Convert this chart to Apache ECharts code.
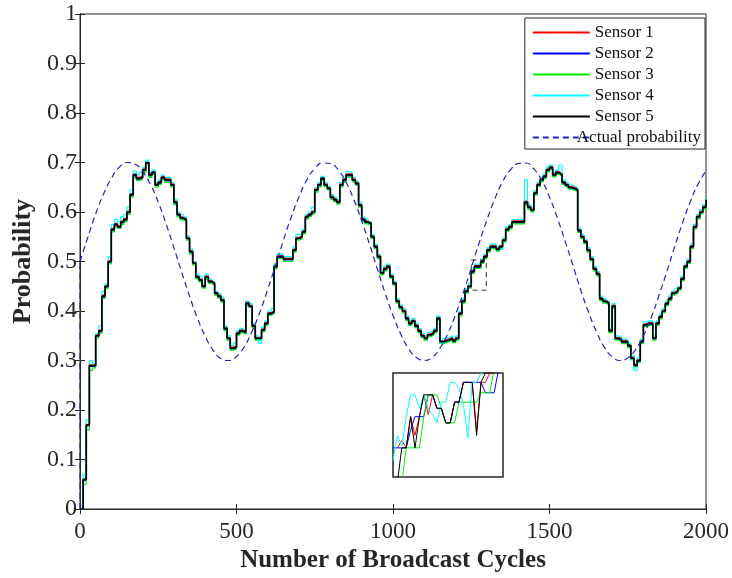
<!DOCTYPE html>
<html>
<head>
<meta charset="utf-8">
<script src="https://cdn.jsdelivr.net/npm/echarts@6/dist/echarts.min.js"></script>
<style>
  html, body { margin: 0; padding: 0; background: #fff; }
  #chart { width: 732px; height: 578px; }
</style>
</head>
<body>
<div id="chart"></div>
<script>
var chart = echarts.init(document.getElementById('chart'));

var serif = "'Liberation Serif', 'Times New Roman', serif";
var axisColor = '#262626';

// broadcast cycles sampled every 10
var cycles = [0,10,20,30,40,50,60,70,80,90,
  100,110,120,130,140,150,160,170,180,190,
  200,210,220,230,240,250,260,270,280,290,
  300,310,320,330,340,350,360,370,380,390,
  400,410,420,430,440,450,460,470,480,490,
  500,510,520,530,540,550,560,570,580,590,
  600,610,620,630,640,650,660,670,680,690,
  700,710,720,730,740,750,760,770,780,790,
  800,810,820,830,840,850,860,870,880,890,
  900,910,920,930,940,950,960,970,980,990,
  1000,1010,1020,1030,1040,1050,1060,1070,1080,1090,
  1100,1110,1120,1130,1140,1150,1160,1170,1180,1190,
  1200,1210,1220,1230,1240,1250,1260,1270,1280,1290,
  1300,1310,1320,1330,1340,1350,1360,1370,1380,1390,
  1400,1410,1420,1430,1440,1450,1460,1470,1480,1490,
  1500,1510,1520,1530,1540,1550,1560,1570,1580,1590,
  1600,1610,1620,1630,1640,1650,1660,1670,1680,1690,
  1700,1710,1720,1730,1740,1750,1760,1770,1780,1790,
  1800,1810,1820,1830,1840,1850,1860,1870,1880,1890,
  1900,1910,1920,1930,1940,1950,1960,1970,1980,1990,2000];

var sensor1 = [0.00,0.06,0.17,0.29,0.29,0.352,0.362,0.432,0.452,0.502,
  0.567,0.577,0.572,0.582,0.587,0.602,0.637,0.677,0.67,0.672,
  0.687,0.70,0.677,0.682,0.657,0.662,0.672,0.667,0.667,0.657,
  0.622,0.597,0.59,0.587,0.549,0.522,0.499,0.471,0.465,0.452,
  0.471,0.462,0.458,0.438,0.432,0.424,0.367,0.347,0.327,0.329,
  0.357,0.362,0.359,0.418,0.412,0.372,0.347,0.347,0.364,0.377,
  0.397,0.40,0.492,0.512,0.512,0.507,0.507,0.507,0.525,0.549,
  0.552,0.562,0.592,0.597,0.602,0.647,0.657,0.67,0.657,0.65,
  0.632,0.627,0.622,0.657,0.667,0.677,0.677,0.667,0.66,0.616,
  0.587,0.582,0.579,0.552,0.532,0.512,0.479,0.487,0.492,0.472,
  0.458,0.422,0.41,0.402,0.387,0.377,0.382,0.372,0.362,0.352,
  0.347,0.354,0.357,0.362,0.387,0.34,0.342,0.344,0.347,0.342,
  0.347,0.397,0.422,0.442,0.452,0.482,0.492,0.492,0.502,0.512,
  0.525,0.532,0.532,0.527,0.532,0.545,0.567,0.572,0.582,0.582,
  0.582,0.582,0.622,0.612,0.606,0.64,0.657,0.667,0.674,0.687,
  0.692,0.677,0.682,0.678,0.662,0.657,0.652,0.65,0.647,0.565,
  0.552,0.542,0.525,0.507,0.487,0.477,0.427,0.422,0.418,0.362,
  0.412,0.347,0.345,0.34,0.34,0.332,0.307,0.292,0.302,0.34,
  0.374,0.377,0.377,0.347,0.377,0.39,0.402,0.417,0.427,0.438,
  0.442,0.448,0.467,0.492,0.502,0.532,0.572,0.592,0.602,0.612,0.627];

var sensor2 = [0.00,0.058,0.168,0.288,0.288,0.348,0.358,0.428,0.448,0.498,
  0.563,0.573,0.568,0.578,0.583,0.598,0.633,0.673,0.666,0.668,
  0.683,0.698,0.673,0.678,0.653,0.658,0.668,0.663,0.663,0.653,
  0.618,0.593,0.586,0.583,0.545,0.518,0.495,0.467,0.461,0.448,
  0.467,0.458,0.454,0.434,0.428,0.42,0.363,0.343,0.323,0.325,
  0.353,0.358,0.355,0.414,0.408,0.368,0.343,0.343,0.36,0.373,
  0.393,0.396,0.488,0.508,0.508,0.503,0.503,0.503,0.521,0.545,
  0.548,0.558,0.588,0.593,0.598,0.643,0.653,0.666,0.653,0.646,
  0.628,0.623,0.618,0.653,0.663,0.673,0.673,0.663,0.656,0.612,
  0.583,0.578,0.575,0.548,0.528,0.508,0.475,0.483,0.488,0.468,
  0.454,0.418,0.406,0.398,0.383,0.373,0.378,0.368,0.358,0.348,
  0.343,0.35,0.353,0.358,0.383,0.336,0.338,0.34,0.343,0.338,
  0.343,0.393,0.418,0.438,0.448,0.478,0.488,0.488,0.498,0.508,
  0.521,0.528,0.528,0.523,0.528,0.541,0.563,0.568,0.578,0.578,
  0.578,0.578,0.618,0.608,0.602,0.636,0.653,0.663,0.67,0.683,
  0.688,0.673,0.678,0.674,0.658,0.653,0.648,0.646,0.643,0.561,
  0.548,0.538,0.521,0.503,0.483,0.473,0.423,0.418,0.414,0.358,
  0.408,0.343,0.341,0.336,0.336,0.328,0.303,0.288,0.298,0.336,
  0.37,0.373,0.373,0.343,0.373,0.386,0.398,0.413,0.423,0.434,
  0.438,0.444,0.463,0.488,0.498,0.528,0.568,0.588,0.598,0.608,0.623];

var sensor3 = [0.00,0.05,0.16,0.28,0.285,0.345,0.355,0.425,0.445,0.495,
  0.56,0.57,0.566,0.575,0.58,0.595,0.63,0.67,0.664,0.666,
  0.68,0.695,0.67,0.676,0.65,0.656,0.666,0.66,0.66,0.65,
  0.615,0.59,0.584,0.58,0.543,0.515,0.493,0.465,0.459,0.446,
  0.465,0.456,0.452,0.432,0.426,0.418,0.36,0.341,0.321,0.323,
  0.351,0.356,0.353,0.41,0.406,0.366,0.341,0.341,0.358,0.371,
  0.391,0.394,0.485,0.506,0.506,0.5,0.5,0.5,0.519,0.543,
  0.546,0.556,0.586,0.591,0.596,0.64,0.65,0.664,0.651,0.644,
  0.626,0.621,0.616,0.65,0.66,0.67,0.671,0.661,0.654,0.61,
  0.581,0.576,0.573,0.546,0.526,0.506,0.473,0.481,0.486,0.466,
  0.452,0.416,0.404,0.396,0.381,0.371,0.376,0.366,0.356,0.346,
  0.341,0.348,0.351,0.356,0.381,0.334,0.336,0.338,0.341,0.336,
  0.341,0.39,0.416,0.436,0.446,0.476,0.486,0.486,0.496,0.506,
  0.519,0.526,0.526,0.521,0.526,0.539,0.561,0.566,0.576,0.576,
  0.576,0.576,0.615,0.606,0.6,0.634,0.651,0.661,0.668,0.681,
  0.686,0.671,0.676,0.672,0.656,0.651,0.646,0.644,0.641,0.559,
  0.546,0.536,0.519,0.501,0.481,0.471,0.421,0.416,0.412,0.356,
  0.406,0.341,0.339,0.334,0.334,0.326,0.301,0.287,0.296,0.334,
  0.368,0.371,0.371,0.341,0.371,0.384,0.396,0.411,0.421,0.432,
  0.436,0.442,0.461,0.486,0.496,0.526,0.566,0.586,0.596,0.606,0.621];

var sensor4 = [0.00,0.07,0.18,0.30,0.295,0.355,0.37,0.44,0.455,0.51,
  0.575,0.585,0.58,0.59,0.595,0.61,0.645,0.682,0.675,0.68,
  0.69,0.705,0.68,0.685,0.66,0.665,0.675,0.67,0.67,0.66,
  0.625,0.60,0.595,0.59,0.552,0.525,0.50,0.475,0.47,0.455,
  0.475,0.465,0.46,0.44,0.435,0.428,0.37,0.35,0.33,0.335,
  0.36,0.365,0.362,0.42,0.415,0.375,0.35,0.335,0.368,0.38,
  0.40,0.405,0.495,0.515,0.515,0.51,0.51,0.51,0.53,0.555,
  0.555,0.565,0.595,0.60,0.61,0.65,0.66,0.672,0.66,0.652,
  0.635,0.63,0.625,0.66,0.67,0.682,0.68,0.67,0.662,0.62,
  0.59,0.585,0.58,0.555,0.535,0.515,0.48,0.49,0.495,0.475,
  0.46,0.425,0.412,0.405,0.39,0.38,0.385,0.375,0.365,0.355,
  0.35,0.357,0.36,0.365,0.39,0.335,0.345,0.347,0.35,0.345,
  0.35,0.40,0.425,0.445,0.455,0.485,0.495,0.495,0.505,0.515,
  0.528,0.535,0.535,0.53,0.525,0.548,0.57,0.575,0.585,0.585,
  0.585,0.585,0.665,0.615,0.61,0.643,0.66,0.67,0.677,0.69,
  0.695,0.68,0.685,0.695,0.665,0.66,0.655,0.652,0.65,0.568,
  0.555,0.545,0.528,0.51,0.49,0.48,0.43,0.425,0.42,0.365,
  0.415,0.35,0.348,0.343,0.343,0.335,0.31,0.28,0.305,0.343,
  0.378,0.38,0.38,0.35,0.38,0.393,0.405,0.42,0.43,0.44,
  0.445,0.45,0.47,0.495,0.505,0.535,0.575,0.595,0.605,0.615,0.63];

var sensor5 = [0.00,0.06,0.17,0.29,0.29,0.35,0.36,0.43,0.45,0.50,
  0.565,0.575,0.57,0.58,0.585,0.60,0.635,0.675,0.668,0.67,
  0.685,0.70,0.675,0.68,0.655,0.66,0.67,0.665,0.665,0.655,
  0.62,0.595,0.588,0.585,0.547,0.52,0.497,0.469,0.463,0.45,
  0.469,0.46,0.456,0.436,0.43,0.422,0.365,0.345,0.325,0.327,
  0.355,0.36,0.357,0.416,0.41,0.37,0.345,0.345,0.362,0.375,
  0.395,0.398,0.49,0.51,0.51,0.505,0.505,0.505,0.523,0.547,
  0.55,0.56,0.59,0.595,0.60,0.645,0.655,0.668,0.655,0.648,
  0.63,0.625,0.62,0.655,0.665,0.675,0.675,0.665,0.658,0.614,
  0.585,0.58,0.577,0.55,0.53,0.51,0.477,0.485,0.49,0.47,
  0.456,0.42,0.408,0.40,0.385,0.375,0.38,0.37,0.36,0.35,
  0.345,0.352,0.355,0.36,0.385,0.338,0.34,0.342,0.345,0.34,
  0.345,0.395,0.42,0.44,0.45,0.48,0.49,0.49,0.50,0.51,
  0.523,0.53,0.53,0.525,0.53,0.543,0.565,0.57,0.58,0.58,
  0.58,0.58,0.62,0.61,0.604,0.638,0.655,0.665,0.672,0.685,
  0.69,0.675,0.68,0.676,0.66,0.655,0.65,0.648,0.645,0.563,
  0.55,0.54,0.523,0.505,0.485,0.475,0.425,0.42,0.416,0.36,
  0.41,0.345,0.343,0.338,0.338,0.33,0.305,0.29,0.30,0.338,
  0.372,0.375,0.375,0.345,0.375,0.388,0.40,0.415,0.425,0.436,
  0.44,0.446,0.465,0.49,0.50,0.53,0.57,0.59,0.60,0.61,0.625];

// actual probability, every 25 cycles
var actualX = [0,25,50,75,100,125,150,175,200,225,250,275,300,325,350,375,400,425,450,475,
  500,525,550,575,600,625,650,675,700,725,750,775,800,825,850,875,900,925,950,975,
  1000,1025,1050,1075,1100,1125,1150,1175,1200,1225,1250,1275,1300,1325,1350,1375,1400,1425,1450,1475,
  1500,1525,1550,1575,1600,1625,1650,1675,1700,1725,1750,1775,1800,1825,1850,1875,1900,1925,1950,1975,2000];
var actualY = [0.500,0.549,0.596,0.636,0.668,0.690,0.700,0.697,0.682,0.656,
  0.620,0.576,0.528,0.478,0.430,0.386,0.349,0.321,0.304,0.300,
  0.308,0.328,0.359,0.398,0.444,0.493,0.543,0.590,0.631,0.665,
  0.688,0.699,0.698,0.685,0.660,0.625,0.582,0.535,0.485,0.436,
  0.391,0.353,0.324,0.306,0.300,0.306,0.325,0.354,0.393,0.438,
  0.487,0.537,0.584,0.626,0.661,0.685,0.698,0.699,0.687,0.664,
  0.630,0.588,0.541,0.492,0.442,0.397,0.358,0.327,0.308,0.300,
  0.305,0.322,0.350,0.387,0.432,0.480,0.530,0.578,0.621,0.657,0.683];
var actualStartX = [0, 0];
var actualStartY = [0, 0.5];

// little box marking the zoomed part
var zoomBoxX = [1250, 1298, 1298, 1250, 1250];
var zoomBoxY = [0.503, 0.503, 0.442, 0.442, 0.503];

// inset (zoomed view), local 0-100 units
var insetX = [0,4,8,12,16,20,24,28,32,36,40,44,48,52,56,60,64,68,72,76,80,84,88,92,96,100];
var inset1 = [null,28,35,28,58,40,58,79,60,79,66,66,52,52,72,72,91,91,91,45,91,91,100,100,104,104];
var inset2 = [28,28,28,28,45,58,58,58,79,79,66,66,52,52,72,72,91,91,91,91,91,81,81,81,104,104];
var inset3 = [-5,-5,-5,28,28,28,28,58,79,79,79,66,52,52,52,72,72,72,72,72,81,81,81,104,104,104];
var inset4 = [16,40,30,58,79,79,66,79,66,60,52,72,72,91,91,85,70,38,91,91,100,104,104,104,104,104];
var inset5 = [-5,-5,28,28,58,28,58,79,79,79,66,66,52,52,72,72,91,91,91,40,91,100,100,100,104,104];

var names = ['Sensor 1', 'Sensor 2', 'Sensor 3', 'Sensor 4', 'Sensor 5'];
var colors = ['#ff0000', '#0000ff', '#00ee00', '#00ffff', '#000000'];
var mainData = [sensor1, sensor2, sensor3, sensor4, sensor5];
var insetData = [inset1, inset2, inset3, inset4, inset5];

function pairs(xs, ys) {
  return xs.map((x, i) => [x, ys[i]]);
}

var series = [];
mainData.forEach((d, i) => {
  series.push({
    name: names[i],
    type: 'line',
    step: 'end',
    symbol: 'none',
    data: pairs(cycles, d),
    lineStyle: { color: colors[i], width: i === 4 ? 1.7 : 1.2 },
    itemStyle: { color: colors[i] },
    z: 2 + i
  });
});
series.push({
  name: 'Actual probability',
  type: 'line',
  smooth: true,
  symbol: 'none',
  data: pairs(actualX, actualY),
  lineStyle: { color: '#2222cc', width: 1.2, type: [6, 4] },
  itemStyle: { color: '#2222cc' },
  z: 8
});
series.push({
  type: 'line',
  symbol: 'none',
  data: pairs(actualStartX, actualStartY),
  lineStyle: { color: '#2222cc', width: 1.2, type: [6, 4] },
  z: 8
});
series.push({
  type: 'line',
  symbol: 'none',
  data: pairs(zoomBoxX, zoomBoxY),
  lineStyle: { color: '#333', width: 1, type: [5, 4] },
  z: 9
});
insetData.forEach((d, i) => {
  series.push({
    type: 'line',
    xAxisIndex: 2,
    yAxisIndex: 2,
    symbol: 'none',
    data: pairs(insetX, d),
    lineStyle: { color: colors[i], width: 1 },
    z: 10 + i
  });
});

var tickStyle = { inside: true, length: 5, lineStyle: { color: axisColor } };
var lineStyle = { lineStyle: { color: axisColor, width: 1 } };

chart.setOption({
  animation: false,
  backgroundColor: '#fff',
  grid: [
    { left: 80, right: 25, top: 14, bottom: 69, show: true, borderColor: axisColor, borderWidth: 1 },
    { left: 393, top: 373, width: 110, height: 104, show: true, borderColor: axisColor, borderWidth: 1.5, backgroundColor: '#fff', z: 1 }
  ],
  legend: {
    orient: 'vertical',
    right: 27,
    top: 18,
    data: names.map(n => ({ name: n })).concat([
      { name: 'Actual probability', textStyle: { padding: [0, 0, 0, -18] } }
    ]),
    itemWidth: 57,
    itemHeight: 14,
    itemGap: 4,
    padding: [6, 4, 3, 7],
    itemStyle: { opacity: 0 },
    backgroundColor: '#fff',
    borderColor: axisColor,
    borderWidth: 1,
    textStyle: { fontFamily: serif, fontSize: 17, color: '#111' },
    z: 20
  },
  xAxis: [
    {
      type: 'value', min: 0, max: 2000, interval: 500, gridIndex: 0, position: 'bottom',
      name: 'Number of Broadcast Cycles', nameLocation: 'middle', nameGap: 38,
      nameTextStyle: { fontFamily: serif, fontSize: 25, fontWeight: 'bold', color: axisColor },
      axisLine: lineStyle, axisTick: tickStyle, splitLine: { show: false },
      axisLabel: { fontFamily: serif, fontSize: 23, color: axisColor, margin: 11, formatter: v => String(v) }
    },
    {
      type: 'value', min: 0, max: 2000, interval: 500, gridIndex: 0, position: 'top',
      axisLine: lineStyle, axisTick: tickStyle, splitLine: { show: false },
      axisLabel: { show: false }
    },
    {
      type: 'value', min: 0, max: 100, gridIndex: 1, show: false
    }
  ],
  yAxis: [
    {
      type: 'value', min: 0, max: 1, interval: 0.1, gridIndex: 0, position: 'left',
      name: 'Probability', nameLocation: 'middle', nameGap: 44,
      nameTextStyle: { fontFamily: serif, fontSize: 26, fontWeight: 'bold', color: axisColor },
      axisLine: lineStyle, axisTick: tickStyle, splitLine: { show: false },
      axisLabel: { fontFamily: serif, fontSize: 24, color: axisColor, margin: 3, formatter: v => String(v) }
    },
    {
      type: 'value', min: 0, max: 1, interval: 0.1, gridIndex: 0, position: 'right',
      axisLine: lineStyle, axisTick: tickStyle, splitLine: { show: false },
      axisLabel: { show: false }
    },
    {
      type: 'value', min: 0, max: 100, gridIndex: 1, show: false
    }
  ],
  series: series
});
</script>
</body>
</html>
